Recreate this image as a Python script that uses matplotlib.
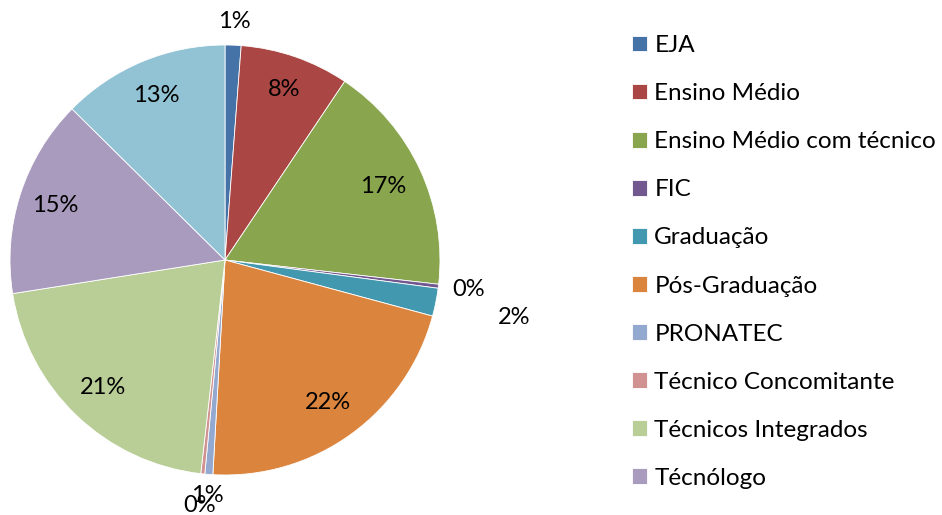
import matplotlib
matplotlib.use("Agg")
import matplotlib.pyplot as plt
import numpy as np

plt.rcParams['font.family'] = ['Lato', 'DejaVu Sans']

categories = ["EJA", "Ensino Médio", "Ensino Médio com técnico", "FIC", "Graduação",
              "Pós-Graduação", "PRONATEC", "Técnico Concomitante", "Técnicos Integrados",
              "Técnólogo", "Outros"]
values = [1.2, 8.2, 17.4, 0.3, 2.1, 21.7, 0.6, 0.3, 20.7, 14.9, 12.6]
colors = ["#4572A7", "#AA4643", "#89A54E", "#71588F", "#4198AF", "#DB843D",
          "#93A9CF", "#D19392", "#B9CD96", "#A99BBD", "#92C3D4"]
label_radius = [1.11, 0.84, 0.81, 1.14, 1.37, 0.82, 1.10, 1.15, 0.82, 0.83, 0.83]

W, H = 942, 515
fig = plt.figure(figsize=(W / 100, H / 100), dpi=100)
cx, cy, r = 225, 260, 215
ax = fig.add_axes([(cx - r) / W, (H - cy - r) / H, 2 * r / W, 2 * r / H])

wedges, _ = ax.pie(values, colors=colors, startangle=90, counterclock=False,
                   wedgeprops=dict(edgecolor="white", linewidth=0.6))
ax.set_xlim(-1, 1)
ax.set_ylim(-1, 1)
ax.set_aspect("equal")
ax.axis("off")

total = sum(values)
for w, v, rr in zip(wedges, values, label_radius):
    th = np.deg2rad((w.theta1 + w.theta2) / 2)
    ax.text(rr * np.cos(th), rr * np.sin(th), f"{round(v / total * 100):d}%",
            ha="center", va="center", fontsize=17, color="black", clip_on=False)

leg = fig.legend(wedges[:10], categories[:10], loc="upper left",
                 bbox_to_anchor=(632 / W, 1 - 35 / H), frameon=False,
                 fontsize=17.5, handlelength=0.62, handleheight=0.62,
                 handletextpad=0.3, labelspacing=1.115, borderpad=0, borderaxespad=0)

fig.savefig("out.png", dpi=100, facecolor="white")
